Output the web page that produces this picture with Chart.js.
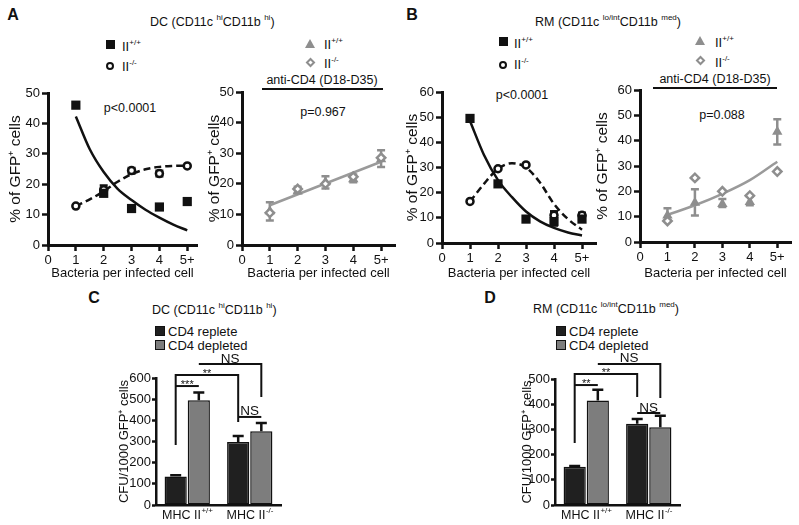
<!DOCTYPE html>
<html>
<head>
<meta charset="utf-8">
<title>Bacteria per infected cell, DC and RM</title>
<script src="https://cdn.jsdelivr.net/npm/chart.js@4.4.1/dist/chart.umd.min.js"></script>
<style>
  body { margin: 0; background: #fff; }
  #page { position: relative; width: 799px; height: 525px; overflow: hidden;
          font-family: "Liberation Sans", Arial, Helvetica, sans-serif; color: #111; }
  #page canvas, .t, .mk, .rule { position: absolute; }
  .t { white-space: nowrap; line-height: 1; font-size: 12.5px; }
  .mid { transform: translate(-50%, -50%); }
  .vm { transform: translateY(-50%); }
  .letter { font-weight: bold; font-size: 16px; }
  .t sup { font-size: 8px; line-height: 0; vertical-align: 0; position: relative; top: -6px; }
  .rule { height: 2px; background: #111; }
  .sq { width: 9px; height: 9px; background: #111; }
  .ci { width: 8px; height: 8px; border: 2.5px solid #111; border-radius: 50%; box-sizing: border-box; }
  .tri { width: 0; height: 0; border-left: 5.5px solid transparent; border-right: 5.5px solid transparent; border-bottom: 9px solid #8e8e8e; }
  .dia { width: 7px; height: 7px; border: 2.5px solid #8e8e8e; box-sizing: border-box; transform: rotate(45deg); background: #fff; }
  .box { width: 10px; height: 10px; border: 1.5px solid #111; box-sizing: border-box; }
  .lg { font-size: 13px; }
</style>
</head>
<body>
<div id="page">
  <!-- panel letters and titles -->
  <div class="t mid letter" style="left:13px;top:15px">A</div>
  <div class="t mid letter" style="left:412px;top:15px">B</div>
  <div class="t mid letter" style="left:94px;top:298px">C</div>
  <div class="t mid letter" style="left:490px;top:298px">D</div>

  <div class="t vm" style="left:150px;top:22px">DC (CD11c <sup>hi</sup>CD11b <sup>hi</sup>)</div>
  <div class="t vm" style="left:535px;top:22px">RM (CD11c <sup>lo/int</sup>CD11b <sup>med</sup>)</div>
  <div class="t vm" style="left:152px;top:310px">DC (CD11c <sup>hi</sup>CD11b <sup>hi</sup>)</div>
  <div class="t vm" style="left:533px;top:309px">RM (CD11c <sup>lo/int</sup>CD11b <sup>med</sup>)</div>

  <!-- scatter legends -->
  <div class="mk sq" style="left:105.5px;top:39.5px"></div>
  <div class="t vm lg" style="left:122px;top:46px">II<sup>+/+</sup></div>
  <div class="mk ci" style="left:106px;top:62px"></div>
  <div class="t vm lg" style="left:122px;top:66px">II<sup>-/-</sup></div>
  <div class="mk tri" style="left:304.5px;top:38.5px"></div>
  <div class="t vm lg" style="left:324px;top:44px">II<sup>+/+</sup></div>
  <div class="mk dia" style="left:306.5px;top:58.5px"></div>
  <div class="t vm lg" style="left:324px;top:63px">II<sup>-/-</sup></div>

  <div class="mk sq" style="left:498.5px;top:36.5px"></div>
  <div class="t vm lg" style="left:514px;top:43px">II<sup>+/+</sup></div>
  <div class="mk ci" style="left:499px;top:61px"></div>
  <div class="t vm lg" style="left:514px;top:64px">II<sup>-/-</sup></div>
  <div class="mk tri" style="left:694.5px;top:35.5px"></div>
  <div class="t vm lg" style="left:715px;top:42px">II<sup>+/+</sup></div>
  <div class="mk dia" style="left:696.5px;top:56.5px"></div>
  <div class="t vm lg" style="left:715px;top:62px">II<sup>-/-</sup></div>

  <!-- anti-CD4 treatment bars -->
  <div class="t mid" style="left:322px;top:80px">anti-CD4 (D18-D35)</div>
  <div class="rule" style="left:262px;top:87.5px;width:121px"></div>
  <div class="t mid" style="left:715px;top:79px">anti-CD4 (D18-D35)</div>
  <div class="rule" style="left:653px;top:86.5px;width:124px"></div>

  <!-- p values -->
  <div class="t mid" style="left:130px;top:108px">p&lt;0.0001</div>
  <div class="t mid" style="left:323px;top:112px">p=0.967</div>
  <div class="t mid" style="left:522px;top:95px">p&lt;0.0001</div>
  <div class="t mid" style="left:722px;top:115px">p=0.088</div>

  <!-- bar legends -->
  <div class="mk box" style="left:155px;top:326px;background:#202020"></div>
  <div class="t vm lg" style="left:168px;top:331px">CD4 replete</div>
  <div class="mk box" style="left:155px;top:340px;background:#7d7d7d"></div>
  <div class="t vm lg" style="left:168px;top:345px">CD4 depleted</div>
  <div class="mk box" style="left:556px;top:326px;background:#202020"></div>
  <div class="t vm lg" style="left:569px;top:331px">CD4 replete</div>
  <div class="mk box" style="left:556px;top:340px;background:#7d7d7d"></div>
  <div class="t vm lg" style="left:569px;top:345px">CD4 depleted</div>

  <canvas id="dcScatter" width="205" height="205" style="left:0;top:80px"></canvas>
  <canvas id="dcCd4" width="202" height="205" style="left:200px;top:80px"></canvas>
  <canvas id="rmScatter" width="203" height="205" style="left:400px;top:80px"></canvas>
  <canvas id="rmCd4" width="209" height="205" style="left:590px;top:80px"></canvas>
  <canvas id="dcBars" width="180" height="180" style="left:108px;top:345px"></canvas>
  <canvas id="rmBars" width="185" height="180" style="left:505px;top:345px"></canvas>
</div>

<script>
// --- values ---
const xTicks = [0, 1, 2, 3, 4, 5];
const xTickLabels = ['0', '1', '2', '3', '4', '5+'];
const bacteria = [1, 2, 3, 4, 5];
const fitX = [1, 1.5, 2, 2.5, 3, 3.5, 4, 4.5, 5];

// A, DC untreated
const dcWt = [46, 17, 12, 12.5, 14.3];
const dcKo = [12.8, 18.2, 24.5, 23.5, 26];
const dcKoErr = [null, [17, 19.6], [23.5, 25.3], [22.6, 24.4], null];
const dcWtFit = [42.3, 31.5, 24, 18.5, 14.8, 11.6, 9, 6.7, 4.8];
const dcKoFit = [12.8, 15, 17.7, 20.8, 23.3, 24.9, 25.7, 26, 26.1];

// A, DC anti-CD4
const dcCd4Wt = [11, 17.5, 20.5, 21.5, 28];
const dcCd4WtErr = [[8, 14], [17, 19], [18.5, 22.5], [20.5, 23], [25.5, 31]];
const dcCd4Ko = [10.5, 18.3, 20, 22.3, 28.5];
const dcCd4FitX = [1, 5];
const dcCd4Fit = [13, 27.2];

// B, RM untreated
const rmWt = [49.5, 23.5, 9.5, 8.5, 9.5];
const rmWtErr = [null, null, null, [7, 12.5], null];
const rmKo = [16.5, 29.5, 31, 11, 11];
const rmKoErr = [null, null, null, [9.5, 12.5], [10, 12]];
const rmWtFit = [48.5, 35, 25, 18.2, 12.5, 8.6, 6, 4.2, 3];
const rmKoFit = [16.5, 23.5, 29.5, 31.7, 30, 24, 15.5, 9.5, 5.3];

// B, RM anti-CD4
const rmCd4Wt = [10.5, 15.5, 15, 15.8, 43.5];
const rmCd4WtErr = [[8.5, 13.3], [10.5, 20.8], [13.8, 17], [14.5, 18], [38.5, 48.5]];
const rmCd4Ko = [8.3, 25.3, 20, 18.3, 27.8];
const rmCd4Fit = [10.7, 14.5, 19, 24.4, 31.7];

// C, D: CFU per 1000 GFP+ cells
const barCats = ['MHC II+/+', 'MHC II-/-'];
const dcReplete = [135, 298];
const dcRepleteErr = [140, 326];
const dcDepleted = [495, 348];
const dcDepletedErr = [532, 387];
const rmReplete = [152, 322];
const rmRepleteErr = [155, 341];
const rmDepleted = [415, 309];
const rmDepletedErr = [457, 354];

// significance brackets: a/b = [dataset, category], y = level, leg = end of the legs
const dcBrackets = [
    { a: [0, 0], b: [1, 0], y: 562, text: '***' },
    { a: [0, 0], b: [0, 1], y: 614, legA: 283, legB: 392, text: '**' },
    { a: [1, 0], b: [1, 1], y: 666, legB: 510, text: 'NS' },
    { a: [0, 1], b: [1, 1], y: 416, text: 'NS' }
];
const rmBrackets = [
    { a: [0, 0], b: [1, 0], y: 476, text: '**' },
    { a: [0, 0], b: [0, 1], y: 520, legA: 246, legB: 429, text: '**' },
    { a: [1, 0], b: [1, 1], y: 560, legB: 425, text: 'NS' },
    { a: [0, 1], b: [1, 1], y: 365, text: 'NS' }
];

const FONT = '"Liberation Sans", Arial, Helvetica, sans-serif';
const INK = '#111';
const GREY = '#8e8e8e';
Chart.defaults.font.family = FONT;
Chart.defaults.font.size = 13;
Chart.defaults.color = INK;

const pts = (xa, ya) => xa.map((x, i) => ({ x: x, y: ya[i] }));

// error bars drawn under the markers / bars
const errorBars = {
    id: 'errorBars',
    beforeDatasetsDraw(chart) {
        const ctx = chart.ctx;
        const yScale = chart.scales.y;
        chart.data.datasets.forEach((ds, di) => {
            if (!ds.errs) return;
            const meta = chart.getDatasetMeta(di);
            ctx.save();
            ctx.strokeStyle = ds.errColor || INK;
            ctx.lineWidth = 2.5;
            meta.data.forEach((el, i) => {
                const e = ds.errs[i];
                if (!e) return;
                const lo = yScale.getPixelForValue(e[0]);
                const hi = yScale.getPixelForValue(e[1]);
                const w = ds.capW || 4;
                ctx.beginPath();
                ctx.moveTo(el.x, lo);
                ctx.lineTo(el.x, hi);
                ctx.moveTo(el.x - w, hi);
                ctx.lineTo(el.x + w, hi);
                if (ds.capLow !== false) {
                    ctx.moveTo(el.x - w, lo);
                    ctx.lineTo(el.x + w, lo);
                }
                ctx.stroke();
            });
            ctx.restore();
        });
    }
};

function bracketPlugin(list) {
    return {
        id: 'brackets',
        afterDatasetsDraw(chart) {
            const ctx = chart.ctx;
            const y = chart.scales.y;
            const barX = (ref) => chart.getDatasetMeta(ref[0]).data[ref[1]].x;
            ctx.save();
            ctx.strokeStyle = INK;
            ctx.fillStyle = INK;
            ctx.lineWidth = 2;
            ctx.lineJoin = 'miter';
            list.forEach(b => {
                const x1 = barX(b.a), x2 = barX(b.b);
                const top = y.getPixelForValue(b.y);
                ctx.beginPath();
                ctx.moveTo(x1, b.legA != null ? y.getPixelForValue(b.legA) : top);
                ctx.lineTo(x1, top);
                ctx.lineTo(x2, top);
                ctx.lineTo(x2, b.legB != null ? y.getPixelForValue(b.legB) : top);
                ctx.stroke();
                const stars = b.text.startsWith('*');
                ctx.font = (stars ? '11px ' : '13.5px ') + FONT;
                ctx.textAlign = 'center';
                ctx.textBaseline = 'alphabetic';
                ctx.fillText(b.text, (x1 + x2) / 2, stars ? top + 2 : top - 1.5);
            });
            ctx.restore();
        }
    };
}

// category labels with superscript genotype
const supLabels = {
    id: 'supLabels',
    afterDraw(chart) {
        const ctx = chart.ctx;
        const xs = chart.scales.x;
        ctx.save();
        ctx.fillStyle = INK;
        ctx.textAlign = 'left';
        ctx.textBaseline = 'alphabetic';
        chart.data.labels.forEach((lab, i) => {
            const base = lab.slice(0, -3), sup = lab.slice(-3);
            ctx.font = '12.5px ' + FONT;
            const wb = ctx.measureText(base).width;
            ctx.font = '8px ' + FONT;
            const ws = ctx.measureText(sup).width;
            const x0 = xs.getPixelForValue(i) - (wb + ws) / 2;
            ctx.font = '12.5px ' + FONT;
            ctx.fillText(base, x0, xs.top + 13.5);
            ctx.font = '8px ' + FONT;
            ctx.fillText(sup, x0 + wb + 0.5, xs.top + 8);
        });
        ctx.restore();
    }
};

const axisGrid = { display: true, drawOnChartArea: false, drawTicks: true, tickLength: 6, tickWidth: 2.5, tickColor: INK };
const axisBorder = { display: true, width: 3, color: INK };

function scatterPanel(id, cfg) {
    return new Chart(document.getElementById(id), {
        type: 'scatter',
        data: { datasets: cfg.datasets },
        options: {
            responsive: false,
            animation: false,
            layout: { padding: { left: 0, top: cfg.padTop, right: cfg.padRight, bottom: 0 } },
            plugins: { legend: { display: false }, tooltip: { enabled: false } },
            scales: {
                x: {
                    type: 'linear', min: 0, max: cfg.xMax,
                    afterFit: s => { s.height = cfg.xH; },
                    afterBuildTicks: s => { s.ticks = xTicks.map(v => ({ value: v })); },
                    ticks: { callback: (v, i) => xTickLabels[i], padding: 2, maxRotation: 0, autoSkip: false },
                    grid: axisGrid,
                    border: axisBorder,
                    title: { display: true, text: 'Bacteria per infected cell', font: { size: 13 }, padding: { top: 2, bottom: 4 } }
                },
                y: {
                    min: 0, max: cfg.yMax,
                    afterFit: s => { s.width = cfg.yW; },
                    ticks: { stepSize: 10, padding: 2 },
                    grid: axisGrid,
                    border: axisBorder,
                    title: { display: true, text: '% of GFP\u207A cells', font: { size: 15.5 }, padding: { top: cfg.titlePad, bottom: 0 } }
                }
            }
        },
        plugins: [errorBars]
    });
}

const markerSet = {
    square: { pointStyle: 'rect', pointRadius: 6.5, backgroundColor: INK, borderWidth: 0 },
    circle: { pointStyle: 'circle', pointRadius: 3.5, backgroundColor: '#fff', borderColor: INK, borderWidth: 2.5 },
    triangle: { pointStyle: 'triangle', pointRadius: 6, backgroundColor: GREY, borderWidth: 0 },
    diamond: { pointStyle: 'rectRot', pointRadius: 4.2, backgroundColor: '#fff', borderColor: GREY, borderWidth: 2.5 }
};

function curve(data, color, dash) {
    return {
        data: data, showLine: true, pointRadius: 0, borderColor: color, borderWidth: 2.5,
        borderDash: dash || [], cubicInterpolationMode: 'monotone', fill: false, order: 5
    };
}

// A left: DC, untreated
scatterPanel('dcScatter', {
    xMax: 5.35, yMax: 50, yW: 48, xH: 40, padTop: 13, padRight: 8, titlePad: 6,
    datasets: [
        Object.assign({ label: 'II+/+', data: pts(bacteria, dcWt), order: 0 }, markerSet.square),
        Object.assign({ label: 'II-/-', data: pts(bacteria, dcKo), order: 1, errs: dcKoErr, errColor: INK }, markerSet.circle),
        curve(pts(fitX, dcWtFit), INK),
        curve(pts(fitX, dcKoFit), INK, [7, 4])
    ]
});

// A right: DC, anti-CD4
scatterPanel('dcCd4', {
    xMax: 5.5, yMax: 50, yW: 42, xH: 40, padTop: 12, padRight: 7, titlePad: 5,
    datasets: [
        Object.assign({ label: 'II+/+', data: pts(bacteria, dcCd4Wt), order: 1, errs: dcCd4WtErr, errColor: GREY }, markerSet.triangle),
        Object.assign({ label: 'II-/-', data: pts(bacteria, dcCd4Ko), order: 0 }, markerSet.diamond),
        curve(pts(dcCd4FitX, dcCd4Fit), '#9a9a9a')
    ]
});

// B left: RM, untreated
scatterPanel('rmScatter', {
    xMax: 5.5, yMax: 60, yW: 42, xH: 42, padTop: 12, padRight: 7, titlePad: 3,
    datasets: [
        Object.assign({ label: 'II+/+', data: pts(bacteria, rmWt), order: 0, errs: rmWtErr, errColor: INK }, markerSet.square),
        Object.assign({ label: 'II-/-', data: pts(bacteria, rmKo), order: 1, errs: rmKoErr, errColor: INK }, markerSet.circle),
        curve(pts(fitX, rmWtFit), INK),
        curve(pts(fitX, rmKoFit), INK, [7, 4])
    ]
});

// B right: RM, anti-CD4
scatterPanel('rmCd4', {
    xMax: 5.5, yMax: 60, yW: 50, xH: 43, padTop: 10, padRight: 8, titlePad: 3,
    datasets: [
        Object.assign({ label: 'II+/+', data: pts(bacteria, rmCd4Wt), order: 1, errs: rmCd4WtErr, errColor: GREY }, markerSet.triangle),
        Object.assign({ label: 'II-/-', data: pts(bacteria, rmCd4Ko), order: 0 }, markerSet.diamond),
        curve(pts(bacteria, rmCd4Fit), '#9a9a9a')
    ]
});

function barPanel(id, cfg) {
    const withErr = (vals, hi) => vals.map((v, i) => [v, hi[i]]);
    return new Chart(document.getElementById(id), {
        type: 'bar',
        data: {
            labels: barCats,
            datasets: [
                { label: 'CD4 replete', data: cfg.replete, backgroundColor: '#202020', borderColor: INK, borderWidth: 1.5,
                  borderSkipped: false, errs: withErr(cfg.replete, cfg.repleteErr), capLow: false, capW: 5.5 },
                { label: 'CD4 depleted', data: cfg.depleted, backgroundColor: '#7d7d7d', borderColor: INK, borderWidth: 1.5,
                  borderSkipped: false, errs: withErr(cfg.depleted, cfg.depletedErr), capLow: false, capW: 5.5 }
            ]
        },
        options: {
            responsive: false,
            animation: false,
            categoryPercentage: 0.74,
            barPercentage: 0.96,
            layout: { padding: { left: 0, top: cfg.padTop, right: cfg.padRight, bottom: 0 } },
            plugins: { legend: { display: false }, tooltip: { enabled: false } },
            scales: {
                x: {
                    afterFit: s => { s.height = 20; },
                    ticks: { display: false },
                    grid: { display: false },
                    border: { display: true, width: 2.5, color: INK }
                },
                y: {
                    min: 0, max: cfg.yMax,
                    afterFit: s => { s.width = cfg.yW; },
                    ticks: { stepSize: 100, padding: 1 },
                    grid: { display: true, drawOnChartArea: false, drawTicks: true, tickLength: 4, tickWidth: 2.5, tickColor: INK },
                    border: { display: true, width: 2.5, color: INK },
                    title: { display: true, text: 'CFU/1000 GFP\u207A cells', font: { size: 13 }, padding: { top: cfg.titlePad, bottom: 0 } }
                }
            }
        },
        plugins: [errorBars, bracketPlugin(cfg.brackets), supLabels]
    });
}

// C: DC
barPanel('dcBars', {
    replete: dcReplete, repleteErr: dcRepleteErr, depleted: dcDepleted, depletedErr: dcDepletedErr,
    yMax: 600, yW: 48, padTop: 33, padRight: 7, titlePad: 9, brackets: dcBrackets
});

// D: RM
barPanel('rmBars', {
    replete: rmReplete, repleteErr: rmRepleteErr, depleted: rmDepleted, depletedErr: rmDepletedErr,
    yMax: 500, yW: 50, padTop: 34, padRight: 10, titlePad: 15, brackets: rmBrackets
});
</script>
</body>
</html>
